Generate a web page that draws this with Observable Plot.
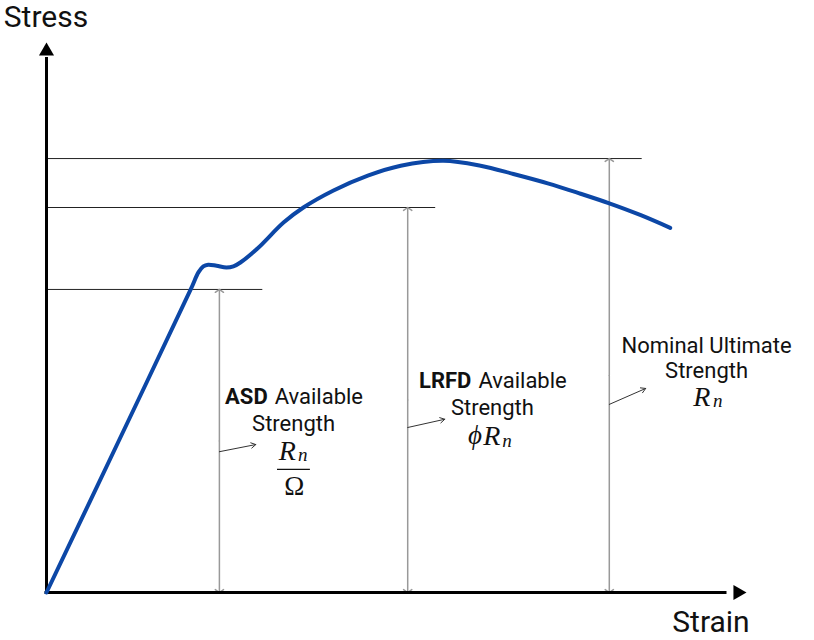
<!DOCTYPE html>
<html>
<head>
<meta charset="utf-8">
<script src="https://cdn.jsdelivr.net/npm/d3@7"></script>
<script src="https://cdn.jsdelivr.net/npm/@observablehq/plot@0.6"></script>
<style>body{margin:0;background:#fff;}</style>
</head>
<body>
<div id="chart"></div>
<script>
// Stress-strain curve (arbitrary units, 0-100)
const strain = [0, 10.3, 20.6, 21.7, 22.4, 23.1, 24.3, 25.7, 26.7, 27.7, 30.1, 33.9, 36.7, 41.0, 45.9, 50.6, 56.7, 62.0, 66.7, 71.6, 76.3, 80.3, 84.9, 89.1];
const stress = [0, 27.5, 55.1, 58.2, 59.3, 59.6, 59.4, 59.1, 59.3, 60.0, 62.5, 67.3, 70.0, 73.1, 75.8, 77.6, 78.5, 77.6, 76.1, 74.4, 72.5, 70.8, 68.6, 66.3];

// Strength levels
const levelNames = ["ASD", "LRFD", "Nominal"];
const levelStress = [55.1, 70.0, 78.9];
const levelLineEnd = [30.9, 55.6, 85.1];
const levelArrowStrain = [24.7, 51.6, 80.4];

// Leader arrows
const leaderX1 = [24.7, 51.6, 80.4];
const leaderY1 = [25.6, 30.0, 34.2];
const leaderX2 = [29.9, 56.9, 85.6];
const leaderY2 = [26.9, 31.5, 37.1];

// Label texts
const boldWords = ["ASD", "LRFD"];
const boldX = [31.6, 60.7];
const boldY = [35.6, 38.4];
const availX = [32.6, 61.7];
const plainLines = ["Strength", "Strength", "Nominal Ultimate", "Strength"];
const plainX = [35.3, 63.7, 94.3, 94.3];
const plainY = [30.7, 33.6, 44.9, 40.2];

// Math symbols
const rX = [34.4, 63.6, 93.6];
const rY = [25.8, 28.4, 35.6];
const nX = [36.6, 65.8, 95.9];
const nY = [25.1, 27.6, 34.8];

const axisLabels = ["Stress", "Strain"];

const curve = strain.map((s, i) => ({strain: s, stress: stress[i]}));
const levels = levelNames.map((n, i) => ({name: n, stress: levelStress[i], end: levelLineEnd[i], ax: levelArrowStrain[i], mid: levelStress[i] / 2}));
const leaders = leaderX1.map((x, i) => ({x1: x, y1: leaderY1[i], x2: leaderX2[i], y2: leaderY2[i]}));

const serif = "Liberation Serif";

const chart = Plot.plot({
  width: 814,
  height: 640,
  margin: 0,
  x: {domain: [0, 100], range: [46, 746], axis: null},
  y: {domain: [0, 100], range: [592, 42], axis: null},
  style: {fontFamily: "Roboto, sans-serif", fontSize: "22px", background: "white", overflow: "visible", color: "#111"},
  marks: [
    // horizontal strength lines
    Plot.ruleY(levels, {y: "stress", x1: 0, x2: "end", stroke: "#222", strokeWidth: 1}),
    // vertical double-headed arrows (drawn from the middle outwards)
    Plot.arrow(levels, {x1: "ax", x2: "ax", y1: "mid", y2: "stress", stroke: "#999", strokeWidth: 1.5, headLength: 5, headAngle: 110}),
    Plot.arrow(levels, {x1: "ax", x2: "ax", y1: "mid", y2: 0, stroke: "#999", strokeWidth: 1.5, headLength: 5, headAngle: 110}),
    // axes
    Plot.ruleX([0], {y1: 0, y2: 97, stroke: "black", strokeWidth: 3, strokeLinecap: "square"}),
    Plot.ruleY([0], {x1: 0, x2: 97, stroke: "black", strokeWidth: 3, strokeLinecap: "square"}),
    Plot.dot([{x: 0, y: 100}], {x: "x", y: "y", symbol: "triangle", r: 5.6, fill: "black", stroke: null, dy: 8.7}),
    Plot.dot([{x: 100, y: 0}], {x: "x", y: "y", symbol: "triangle", r: 5.6, fill: "black", stroke: null, rotate: 90, dx: -8.7}),
    // curve
    Plot.line(curve, {x: "strain", y: "stress", curve: "catmull-rom", stroke: "#0c47a6", strokeWidth: 4, strokeLinecap: "round"}),
    // leader arrows
    Plot.arrow(leaders, {x1: "x1", y1: "y1", x2: "x2", y2: "y2", stroke: "#333", strokeWidth: 1, headLength: 8}),
    // labels
    Plot.text(boldWords, {x: (d, i) => boldX[i], y: (d, i) => boldY[i], text: d => d, textAnchor: "end", fontWeight: "bold", fontSize: 22}),
    Plot.text(boldWords, {x: (d, i) => availX[i], y: (d, i) => boldY[i], text: () => "Available", textAnchor: "start", fontSize: 22}),
    Plot.text(plainLines, {x: (d, i) => plainX[i], y: (d, i) => plainY[i], text: d => d, fontSize: 22}),
    // math
    Plot.text(rX, {x: d => d, y: (d, i) => rY[i], text: () => "R", fontFamily: serif, fontStyle: "italic", fontSize: 28}),
    Plot.text(nX, {x: d => d, y: (d, i) => nY[i], text: () => "n", fontFamily: serif, fontStyle: "italic", fontSize: 19}),
    Plot.text([61.2], {x: d => d, y: 28.6, text: () => "ϕ", fontFamily: serif, fontStyle: "italic", fontSize: 27}),
    Plot.ruleY([22.4], {x1: 33.0, x2: 37.7, stroke: "#111", strokeWidth: 1.2}),
    Plot.text([35.4], {x: d => d, y: 19.3, text: () => "Ω", fontFamily: serif, fontSize: 27}),
    // axis labels
    Plot.text(axisLabels, {x: [-6.1, 89.4], y: [104.5, -5.5], text: d => d, textAnchor: "start", fontSize: 30})
  ]
});
document.getElementById("chart").appendChild(chart);
</script>
</body>
</html>
